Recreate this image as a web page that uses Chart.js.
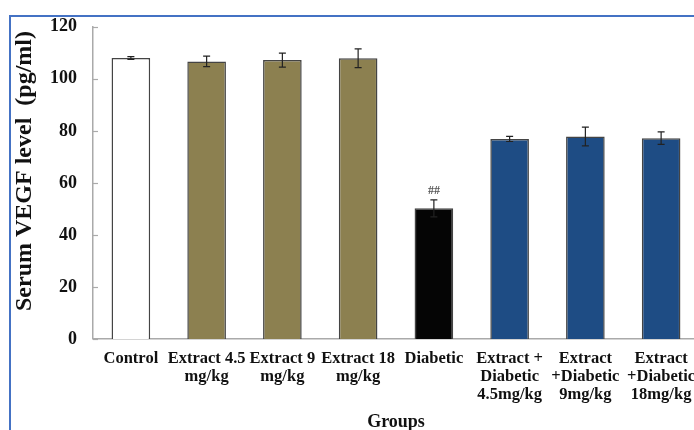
<!DOCTYPE html>
<html>
<head>
<meta charset="utf-8">
<script src="https://cdn.jsdelivr.net/npm/chart.js@4/dist/chart.umd.min.js"></script>
<style>
  html, body { margin: 0; padding: 0; background: #fff; overflow: hidden; width: 694px; height: 430px; }
  #wrap { position: absolute; left: 0; top: 0; width: 712px; height: 430px; }
</style>
</head>
<body>
<div id="wrap"><canvas id="chart" width="712" height="430"></canvas></div>
<script>
// Serum VEGF level per group (mean ± SD)
const groups = [
  'Control',
  ['Extract 4.5', 'mg/kg'],
  ['Extract 9', 'mg/kg'],
  ['Extract 18', 'mg/kg'],
  'Diabetic',
  ['Extract +', 'Diabetic', '4.5mg/kg'],
  ['Extract', '+Diabetic', '9mg/kg'],
  ['Extract', '+Diabetic', '18mg/kg']
];
const vegfMean = [108, 106.7, 107.2, 107.9, 50.2, 76.9, 77.8, 77.2];
const vegfSD   = [0.5, 2.0, 2.7, 3.6, 3.3, 1.0, 3.6, 2.4];
const marks    = ['', '', '', '', '##', '', '', ''];
const yTicks   = [0, 20, 40, 60, 80, 100, 120];
const yTitle   = 'Serum VEGF level  (pg/ml)';

const barColors = ['#ffffff', '#8c8050', '#8c8050', '#8c8050', '#050505', '#1e4c84', '#1e4c84', '#1e4c84'];
const SERIF = '"Liberation Serif", "Times New Roman", serif';

// Outer blue frame of the figure
const framePlugin = {
  id: 'frame',
  beforeDraw(chart) {
    const ctx = chart.ctx;
    ctx.save();
    ctx.strokeStyle = '#4472c4';
    ctx.lineWidth = 2;
    ctx.strokeRect(10, 16, 900, 900);
    ctx.restore();
  }
};

// Rotated value-axis title, placed in the left padding
const yTitlePlugin = {
  id: 'yTitle',
  afterDraw(chart) {
    const ctx = chart.ctx;
    ctx.save();
    ctx.translate(25, 171);
    ctx.rotate(-Math.PI / 2);
    ctx.fillStyle = '#111';
    ctx.font = 'bold 24px ' + SERIF;
    ctx.textAlign = 'center';
    ctx.textBaseline = 'middle';
    ctx.fillText(yTitle, 0, 0);
    ctx.restore();
  }
};

// Error bars and significance marks
const errorBarPlugin = {
  id: 'errorBars',
  afterDatasetsDraw(chart) {
    const ctx = chart.ctx;
    const meta = chart.getDatasetMeta(0);
    const y = chart.scales.y;
    ctx.save();
    ctx.strokeStyle = '#222';
    ctx.lineWidth = 1.2;
    meta.data.forEach((bar, i) => {
      const x = bar.x;
      const top = y.getPixelForValue(vegfMean[i] + vegfSD[i]);
      const bot = y.getPixelForValue(vegfMean[i] - vegfSD[i]);
      ctx.beginPath();
      ctx.moveTo(x, top); ctx.lineTo(x, bot);
      ctx.moveTo(x - 3.5, top); ctx.lineTo(x + 3.5, top);
      ctx.moveTo(x - 3.5, bot); ctx.lineTo(x + 3.5, bot);
      ctx.stroke();
      if (marks[i]) {
        ctx.fillStyle = '#555';
        ctx.font = 'bold 12px ' + SERIF;
        ctx.textAlign = 'center';
        ctx.textBaseline = 'bottom';
        ctx.fillText(marks[i], x, top - 3);
      }
    });
    ctx.restore();
  }
};

// Short tick marks on the inner side of the value axis
const innerTicksPlugin = {
  id: 'innerTicks',
  afterDraw(chart) {
    const y = chart.scales.y;
    const ctx = chart.ctx;
    const x0 = chart.chartArea.left;
    ctx.save();
    ctx.strokeStyle = '#aaa';
    ctx.lineWidth = 1.2;
    yTicks.forEach(v => {
      const py = Math.round(y.getPixelForValue(v)) + 0.5;
      ctx.beginPath();
      ctx.moveTo(x0, py); ctx.lineTo(x0 + 5, py);
      ctx.stroke();
    });
    ctx.restore();
  }
};

new Chart(document.getElementById('chart'), {
  type: 'bar',
  data: {
    labels: groups,
    datasets: [{
      data: vegfMean,
      backgroundColor: barColors,
      borderColor: '#444',
      borderWidth: 1.5,
      borderSkipped: 'bottom',
      barPercentage: 0.51,
      categoryPercentage: 1.0
    }]
  },
  options: {
    responsive: false,
    animation: false,
    layout: { padding: { left: 34, right: 13, top: 25, bottom: 0 } },
    plugins: { legend: { display: false }, tooltip: { enabled: false } },
    scales: {
      x: {
        grid: { display: false, drawTicks: false },
        border: { color: '#aaa', width: 1.5 },
        ticks: {
          color: '#111',
          padding: 11,
          maxRotation: 0,
          autoSkip: false,
          font: { family: SERIF, size: 16.5, weight: 'bold', lineHeight: 1.08 }
        },
        title: {
          display: true,
          text: 'Groups',
          color: '#111',
          padding: { top: -3, bottom: -3 },
          font: { family: SERIF, size: 18, weight: 'bold' }
        }
      },
      y: {
        min: 0,
        max: 120,
        afterBuildTicks(scale) { scale.ticks = yTicks.map(v => ({ value: v })); },
        grid: { display: false, drawOnChartArea: false, drawTicks: false },
        border: { color: '#aaa', width: 1.5 },
        ticks: {
          color: '#111',
          padding: 16,
          font: { family: SERIF, size: 18, weight: 'bold' }
        }
      }
    }
  },
  plugins: [framePlugin, yTitlePlugin, errorBarPlugin, innerTicksPlugin]
});
</script>
</body>
</html>
